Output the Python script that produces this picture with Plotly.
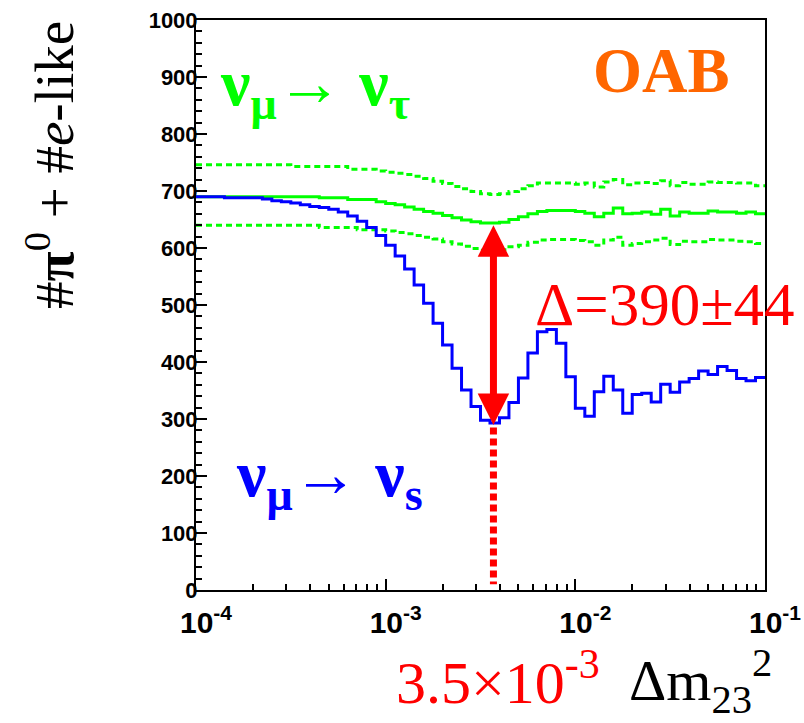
import math
import numpy as np
import plotly.graph_objects as go

# ---- data ----
log_lo, log_hi, n_bins = -4.0, -1.0, 60

nu_s = [690, 690, 690, 688, 688, 688, 688, 686, 683, 681,
        679, 676, 673, 671, 668, 663, 656, 647, 636, 622,
        605, 586, 563, 535, 503, 468, 430, 389, 351, 322,
        298, 293, 302, 329, 372, 416, 453, 457, 433, 374,
        319, 305, 348, 375, 351, 310, 343, 345, 330, 361,
        347, 365, 371, 384, 378, 392, 385, 371, 367, 373]

nu_tau = [690, 690, 690, 690, 690, 690, 690, 690, 690, 690,
          690, 690, 690, 688, 688, 688, 685, 685, 685, 681,
          678, 676, 672, 668, 664, 661, 657, 653, 649, 646,
          644, 644, 645, 650, 655, 660, 664, 666, 666, 666,
          664, 661, 655, 661, 670, 660, 661, 663, 659, 668,
          656, 663, 661, 661, 665, 663, 663, 661, 663, 660]

nu_tau_hi = [746, 746, 746, 746, 746, 746, 746, 746, 746, 746,
             743, 743, 743, 743, 743, 743, 738, 738, 738, 735,
             733, 731, 729, 726, 722, 717, 713, 708, 704, 699,
             695, 694, 695, 699, 704, 709, 714, 714, 714, 714,
             712, 714, 707, 716, 720, 711, 714, 715, 713, 718,
             709, 715, 712, 712, 716, 715, 715, 714, 714, 709]

nu_tau_lo = [640, 640, 640, 640, 640, 640, 640, 640, 640, 640,
             640, 640, 640, 636, 636, 636, 636, 632, 632, 632,
             630, 627, 625, 622, 619, 616, 611, 607, 603, 599,
             596, 596, 597, 602, 605, 610, 614, 615, 615, 615,
             613, 611, 605, 614, 619, 605, 608, 611, 614, 617,
             606, 612, 611, 611, 615, 614, 614, 612, 611, 608]

best_dm2 = 3.7e-3          # position of the arrow / dotted line
arrow_top, arrow_bottom = 640, 287
dotted_top, dotted_bottom = 285, 10

x_tick_vals = [1e-4, 1e-3, 1e-2, 1e-1]
x_tick_text = ["<b>10<sup>-4</sup></b>", "<b>10<sup>-3</sup></b>", "<b>10<sup>-2</sup></b>", "<b>10<sup>-1</sup></b>"]
y_tick_vals = list(range(0, 1001, 100))
y_tick_text = ["<b>%d</b>" % v for v in y_tick_vals]

# ---- derived ----
edges = np.logspace(log_lo, log_hi, n_bins + 1)
def step(vals):
    return list(edges), list(vals) + [vals[-1]]

fig = go.Figure()
GREEN, BLUE, RED = "#00ff00", "#0000ff", "#ff0000"

for vals, dash, w in [(nu_tau_hi, "6px,4px", 3), (nu_tau_lo, "6px,4px", 3), (nu_tau, "solid", 3)]:
    xs, ys = step(vals)
    fig.add_trace(go.Scatter(x=xs, y=ys, mode="lines", line=dict(color=GREEN, width=w, dash=dash, shape="hv"),
                             hoverinfo="skip", showlegend=False))
xs, ys = step(nu_s)
fig.add_trace(go.Scatter(x=xs, y=ys, mode="lines", line=dict(color=BLUE, width=3, shape="hv"),
                         hoverinfo="skip", showlegend=False))

# dotted red drop line
fig.add_trace(go.Scatter(x=[best_dm2, best_dm2], y=[dotted_top, dotted_bottom], mode="lines",
                         line=dict(color=RED, width=7, dash="7px,4px"), hoverinfo="skip", showlegend=False))

L, R, T, B = 196, 765, 20, 590
def px(x):
    return (x - L) / (R - L)
def py(y):
    return (B - y) / (B - T)

serif = "Liberation Serif"
ann = []
# double arrow
lx = math.log10(best_dm2)
ann.append(dict(x=lx, y=arrow_top, ax=lx, ay=arrow_bottom, xref="x", yref="y", axref="x", ayref="y",
                text="", showarrow=True, arrowhead=2, startarrowhead=2, arrowside="end+start",
                arrowwidth=7, arrowsize=0.9, startarrowsize=0.9, arrowcolor=RED, standoff=0, startstandoff=0))

ann.append(dict(x=px(218), y=py(87), xref="paper", yref="paper", xanchor="left", yanchor="middle",
                text="<b>ν<sub>μ</sub>→ ν<sub>τ</sub></b>", showarrow=False,
                font=dict(family=serif, size=66, color=GREEN)))
ann.append(dict(x=px(234), y=py(478), xref="paper", yref="paper", xanchor="left", yanchor="middle",
                text="<b>ν<sub>μ</sub>→ ν<sub>s</sub></b>", showarrow=False,
                font=dict(family=serif, size=66, color=BLUE)))
ann.append(dict(x=px(661), y=py(71), xref="paper", yref="paper", xanchor="center", yanchor="middle",
                text="<b>OAB</b>", showarrow=False, font=dict(family=serif, size=63, color="#ff6600")))
ann.append(dict(x=px(533), y=py(304), xref="paper", yref="paper", xanchor="left", yanchor="middle",
                text="Δ=390±44", showarrow=False, font=dict(family=serif, size=61, color=RED)))
ann.append(dict(x=px(394), y=py(678), xref="paper", yref="paper", xanchor="left", yanchor="middle",
                text="3.5×10<sup>-3</sup>", showarrow=False, font=dict(family=serif, size=60, color=RED)))
ann.append(dict(x=px(627), y=py(681), xref="paper", yref="paper", xanchor="left", yanchor="middle",
                text="Δm<sub>23</sub><sup>2</sup>", showarrow=False, font=dict(family=serif, size=58, color="black")))
ann.append(dict(x=px(50), y=py(165), xref="paper", yref="paper", xanchor="center", yanchor="middle",
                textangle=-90, text="#<b>π</b><sup>0</sup> + #<i>e</i>-like", showarrow=False,
                font=dict(family=serif, size=55, color="black")))

minor_x = [m * 10 ** d for d in range(-4, -1) for m in range(2, 10)]

fig.update_layout(
    width=804, height=723,
    margin=dict(l=L, r=804 - R, t=T, b=723 - B, autoexpand=False),
    paper_bgcolor="white", plot_bgcolor="white",
    annotations=ann,
    xaxis=dict(type="log", range=[log_lo, log_hi], tickmode="array", tickvals=x_tick_vals, ticktext=x_tick_text,
               ticks="inside", ticklen=11, tickwidth=1.5, tickcolor="black", automargin=False,
               minor=dict(tickvals=minor_x, ticks="inside", ticklen=6, tickwidth=1.5, tickcolor="black"),
               showline=True, linecolor="black", linewidth=2, mirror=True, showgrid=False, zeroline=False,
               tickfont=dict(family="Liberation Sans", size=30, color="black"),
               ticklabelstandoff=5, ticklabelshift=10),
    yaxis=dict(range=[0, 1000], tickmode="array", tickvals=y_tick_vals, ticktext=y_tick_text,
               ticks="inside", ticklen=11, tickwidth=1.5, tickcolor="black", automargin=False,
               minor=dict(dtick=20, ticks="inside", ticklen=6, tickwidth=1.5, tickcolor="black"),
               showline=True, linecolor="black", linewidth=2, mirror=True, showgrid=False, zeroline=False,
               tickfont=dict(family="Liberation Sans", size=22, color="black"),
               ticklabelstandoff=-8),
)

fig.write_html("out.html")
